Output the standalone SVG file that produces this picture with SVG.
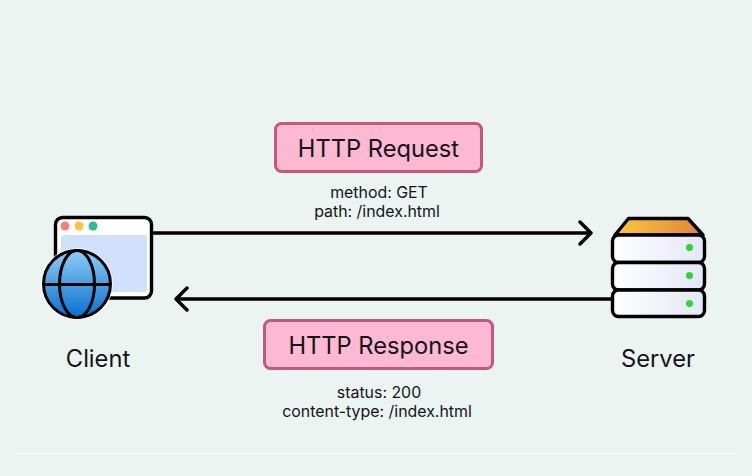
<svg xmlns="http://www.w3.org/2000/svg" width="752" height="476" viewBox="0 0 752 476">
<style>
text{font-family:Inter,"Liberation Sans",sans-serif;fill:#15131a;text-anchor:middle}
.t{font-size:23.700px}
.s{font-size:15.900px}
.n{font-size:23.700px}
.box{fill:#fdb8d2;stroke:#c2587a;stroke-width:3}
.ln{fill:none;stroke:#000;stroke-width:3.400;stroke-linecap:round;stroke-linejoin:round}
.srv{fill:url(#sg);stroke:#000;stroke-width:3.400}
</style>
<defs>
<linearGradient id="sg" x1="0" x2="1" y1="0" y2="0"><stop offset="0" stop-color="#fff"/><stop offset="1" stop-color="#e3e7f6"/></linearGradient>
<linearGradient id="tg" x1="0" x2="1" y1="0" y2="0"><stop offset="0" stop-color="#fbc93b"/><stop offset="1" stop-color="#e0833b"/></linearGradient>
<linearGradient id="gg" x1="0" x2="0" y1="0" y2="1"><stop offset="0" stop-color="#8fcdf5"/><stop offset="1" stop-color="#0870d0"/></linearGradient>
</defs>
<rect width="752" height="476" fill="#ebf4f1"/>
<rect x="15" y="453" width="722" height="1" fill="#f6faf8"/>
<g id="connectors">
<path class="ln" d="M153 233H591M580 222L591 233L580 244"/>
<path class="ln" d="M611 299H176M187 288L176 299L187 310"/>
</g>
<g id="client">
<rect x="55.500" y="217.500" width="96" height="80.500" rx="7" fill="#fff" stroke="#000" stroke-width="3.400"/>
<rect x="61" y="235" width="86" height="57" rx="3" fill="#d0e0fd"/>
<circle cx="65" cy="226" r="4.500" fill="#f37f80"/>
<circle cx="79" cy="226" r="4.500" fill="#fcc63c"/>
<circle cx="93" cy="226" r="4.500" fill="#2dbd92"/>
<circle cx="77" cy="284" r="36" fill="#fff" opacity=".7"/>
<circle cx="77" cy="284" r="33.500" fill="url(#gg)" stroke="#000" stroke-width="3"/>
<ellipse cx="77" cy="284" rx="17.500" ry="33.500" fill="none" stroke="#000" stroke-width="3"/>
<path d="M43.500 284.500H110.500" stroke="#000" stroke-width="3"/>
<text class="n" x="98" y="367">Client</text>
</g>
<g id="server">
<path d="M615 235L628.500 218.500H688L703 235Z" fill="url(#tg)" stroke="#000" stroke-width="3.400" stroke-linejoin="round"/>
<rect class="srv" x="612.500" y="235" width="92" height="27.500" rx="6"/>
<rect class="srv" x="612.500" y="262.500" width="92" height="27.500" rx="6"/>
<rect class="srv" x="612.500" y="290" width="92" height="26.500" rx="6"/>
<circle cx="689.500" cy="247.500" r="3.500" fill="#2ed62e"/>
<circle cx="689.500" cy="275.500" r="3.500" fill="#2ed62e"/>
<circle cx="689.500" cy="303.500" r="3.500" fill="#2ed62e"/>
<text class="n" x="658" y="367">Server</text>
</g>
<g id="request">
<rect class="box" x="275.500" y="123.500" width="206" height="48" rx="6"/>
<text class="t" x="378.500" y="156.500">HTTP Request</text>
<text class="s" x="379" y="198">method: GET</text>
<text class="s" x="377" y="217">path: /index.html</text>
</g>
<g id="response">
<rect class="box" x="264.500" y="320.500" width="228" height="48" rx="6"/>
<text class="t" x="378.500" y="353.500">HTTP Response</text>
<text class="s" x="379" y="398">status: 200</text>
<text class="s" x="377" y="417">content-type: /index.html</text>
</g>
</svg>
